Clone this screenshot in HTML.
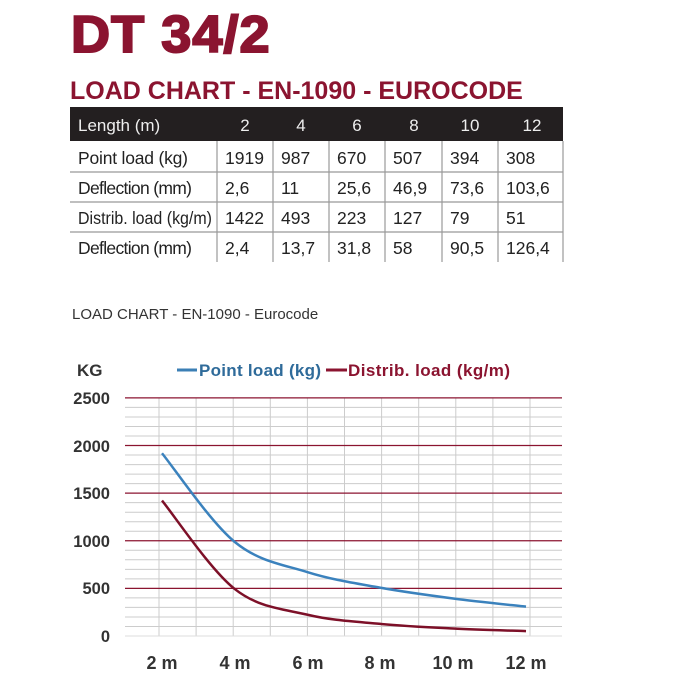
<!DOCTYPE html>
<html><head><meta charset="utf-8"><style>
body{margin:0;width:700px;height:700px;background:#fff;position:relative;overflow:hidden;font-family:"Liberation Sans",sans-serif}
.a{position:absolute;white-space:nowrap}
</style></head><body>
<div class="a" style="left:71px;top:5px;font-size:52px;font-weight:900;color:#8b1430;letter-spacing:1px;-webkit-text-stroke:2px #8b1430;transform:scaleX(1.04);transform-origin:left">DT 34/2</div>
<div class="a" style="left:70px;top:77px;font-size:25px;font-weight:bold;color:#8b1430">LOAD CHART - EN-1090 - EUROCODE</div>
<svg class="a" style="left:0;top:0" width="700" height="700">
<rect x="70" y="107" width="493" height="34" fill="#231f20"/>
<g stroke="#999" stroke-width="1.2">
<line x1="70" y1="172" x2="563" y2="172"/><line x1="70" y1="202" x2="563" y2="202"/><line x1="70" y1="232" x2="563" y2="232"/>
<line x1="217" y1="141" x2="217" y2="262"/><line x1="273" y1="141" x2="273" y2="262"/><line x1="329" y1="141" x2="329" y2="262"/><line x1="385" y1="141" x2="385" y2="262"/><line x1="442" y1="141" x2="442" y2="262"/><line x1="498" y1="141" x2="498" y2="262"/><line x1="563" y1="141" x2="563" y2="262"/>
</g>
<g font-family="Liberation Sans" font-size="17" fill="#eee">
<text x="78" y="131">Length (m)</text>
<g text-anchor="middle"><text x="245" y="131">2</text><text x="301" y="131">4</text><text x="357" y="131">6</text><text x="414" y="131">8</text><text x="470" y="131">10</text><text x="532" y="131">12</text></g>
</g>
<g font-family="Liberation Sans" font-size="17.5" fill="#222">
<text x="78" y="164" textLength="110">Point load (kg)</text><text x="225" y="164">1919</text><text x="281" y="164">987</text><text x="337" y="164">670</text><text x="393" y="164">507</text><text x="450" y="164">394</text><text x="506" y="164">308</text>
<text x="78" y="194" textLength="114">Deflection (mm)</text><text x="225" y="194">2,6</text><text x="281" y="194">11</text><text x="337" y="194">25,6</text><text x="393" y="194">46,9</text><text x="450" y="194">73,6</text><text x="506" y="194">103,6</text>
<text x="78" y="224" textLength="134" lengthAdjust="spacingAndGlyphs">Distrib. load (kg/m)</text><text x="225" y="224">1422</text><text x="281" y="224">493</text><text x="337" y="224">223</text><text x="393" y="224">127</text><text x="450" y="224">79</text><text x="506" y="224">51</text>
<text x="78" y="254" textLength="114">Deflection (mm)</text><text x="225" y="254">2,4</text><text x="281" y="254">13,7</text><text x="337" y="254">31,8</text><text x="393" y="254">58</text><text x="450" y="254">90,5</text><text x="506" y="254">126,4</text>
</g>
<text x="72" y="319" font-family="Liberation Sans" font-size="15" fill="#333">LOAD CHART - EN-1090 - Eurocode</text>
<g id="grid"></g>
<g font-family="Liberation Sans" font-weight="bold" font-size="17">
<text x="77" y="376" fill="#333">KG</text>
<line x1="177" y1="370" x2="197" y2="370" stroke="#3b7fb5" stroke-width="3"/>
<text x="199" y="376" fill="#2f6b9a" textLength="122">Point load (kg)</text>
<line x1="326" y1="370" x2="347" y2="370" stroke="#8b1430" stroke-width="3"/>
<text x="348" y="376" fill="#8b1430" textLength="162">Distrib. load (kg/m)</text>
</g>
<g font-family="Liberation Sans" font-weight="bold" font-size="16.5" fill="#333" text-anchor="end">
<text x="110" y="404">2500</text><text x="110" y="452">2000</text><text x="110" y="499">1500</text><text x="110" y="547">1000</text><text x="110" y="594">500</text><text x="110" y="642">0</text>
</g>
<g font-family="Liberation Sans" font-weight="bold" font-size="18" fill="#333" text-anchor="middle">
<text x="162" y="669">2 m</text><text x="235" y="669">4 m</text><text x="308" y="669">6 m</text><text x="380" y="669">8 m</text><text x="453" y="669">10 m</text><text x="526" y="669">12 m</text>
</g>
<path id="p1" fill="none" stroke="#3b82bd" stroke-width="2.5"/>
<path id="p2" fill="none" stroke="#7d1028" stroke-width="2.5"/>
</svg>
<script>
var g=document.getElementById('grid'),s='';
function Y(v){return 636-v*0.09524}
for(var v=100;v<2500;v+=100){if(v%500)s+='<line x1="125" x2="562" y1="'+Y(v)+'" y2="'+Y(v)+'" stroke="#ccc" stroke-width="1"/>';}
for(var i=0;i<11;i++){var x=159+i*37.1;s+='<line x1="'+x+'" x2="'+x+'" y1="398" y2="636" stroke="#ccc" stroke-width="1"/>';}
s+='<line x1="125" x2="562" y1="636" y2="636" stroke="#ddd"/>';
for(var v=500;v<=2500;v+=500)s+='<line x1="125" x2="562" y1="'+Y(v)+'" y2="'+Y(v)+'" stroke="#8b1430" stroke-width="1.3"/>';
g.innerHTML=s;
function path(d){var p=d.map(function(v,i){return[162+i*72.8,Y(v)]});var o='M'+p[0];
for(var i=0;i<p.length-1;i++){var a=p[i-1]||p[i],b=p[i],c=p[i+1],e=p[i+2]||c;
o+='C'+(b[0]+(c[0]-a[0])/6)+','+(b[1]+(c[1]-a[1])/6)+' '+(c[0]-(e[0]-b[0])/6)+','+(c[1]-(e[1]-b[1])/6)+' '+c;}return o}
document.getElementById('p1').setAttribute('d',path([1919,987,670,507,394,308]));
document.getElementById('p2').setAttribute('d',path([1422,493,223,127,79,51]));
</script>
</body></html>
